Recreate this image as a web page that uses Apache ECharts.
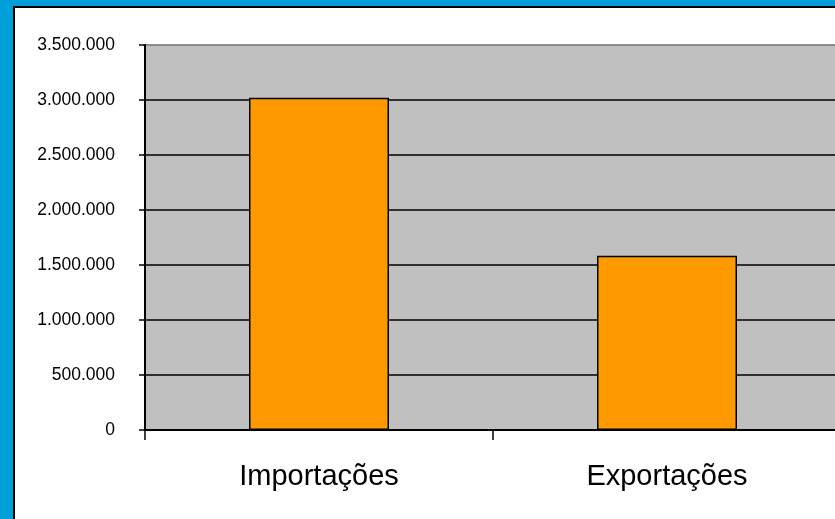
<!DOCTYPE html>
<html>
<head>
<meta charset="utf-8">
<script src="https://cdn.jsdelivr.net/npm/echarts@6/dist/echarts.min.js"></script>
<style>
html,body{margin:0;padding:0;background:#fff;overflow:hidden;width:835px;height:519px;}
#wrap{width:835px;height:519px;overflow:hidden;position:relative;}
#chart{width:860px;height:519px;position:absolute;left:0;top:0;}
</style>
</head>
<body>
<div id="wrap"><div id="chart"></div></div>
<script>
var categories = ['Importações', 'Exportações'];
var values = [3020000, 1585000];
var yTicks = [0, 500000, 1000000, 1500000, 2000000, 2500000, 3000000, 3500000];

function fmt(v) {
  return String(v).replace(/\B(?=(\d{3})+(?!\d))/g, '.');
}

var chart = echarts.init(document.getElementById('chart'));
chart.setOption({
  animation: false,
  backgroundColor: '#ffffff',
  graphic: [
    { type: 'rect', shape: { x: 0, y: 0, width: 860, height: 6 }, style: { fill: '#009FDA' }, z: 100 },
    { type: 'rect', shape: { x: 0, y: 0, width: 13, height: 519 }, style: { fill: '#009FDA' }, z: 100 },
    { type: 'rect', shape: { x: 13, y: 6, width: 847, height: 2 }, style: { fill: '#000' }, z: 100 },
    { type: 'rect', shape: { x: 13, y: 6, width: 2, height: 513 }, style: { fill: '#000' }, z: 100 }
  ],
  grid: {
    left: 145, top: 45, right: 19, bottom: 89,
    show: true, backgroundColor: '#C0C0C0', borderColor: '#808080', borderWidth: 1
  },
  xAxis: {
    type: 'category',
    data: categories,
    axisLine: { lineStyle: { color: '#000', width: 2 } },
    axisTick: { show: true, length: 10, lineStyle: { color: '#000', width: 1.5 } },
    axisLabel: { color: '#000', fontFamily: 'Liberation Sans, Arial, sans-serif', fontSize: 29, margin: 32 },
    splitLine: { show: false }
  },
  yAxis: {
    type: 'value',
    min: yTicks[0],
    max: yTicks[yTicks.length - 1],
    interval: yTicks[1] - yTicks[0],
    axisLine: { show: true, lineStyle: { color: '#000', width: 2 } },
    axisTick: { show: true, length: 6, lineStyle: { color: '#000', width: 1.5 } },
    axisLabel: {
      color: '#000', fontFamily: 'Liberation Sans, Arial, sans-serif', fontSize: 17.5, margin: 30,
      formatter: function (v) { return fmt(v); }
    },
    splitLine: {
      show: true,
      lineStyle: { color: ['#000', '#000', '#000', '#000', '#000', '#000', '#000', '#808080'], width: 1.5 }
    }
  },
  series: [{
    type: 'bar',
    data: values,
    barWidth: 140,
    itemStyle: { color: '#FF9900', borderColor: '#000', borderWidth: 1.5 }
  }]
});
</script>
</body>
</html>
